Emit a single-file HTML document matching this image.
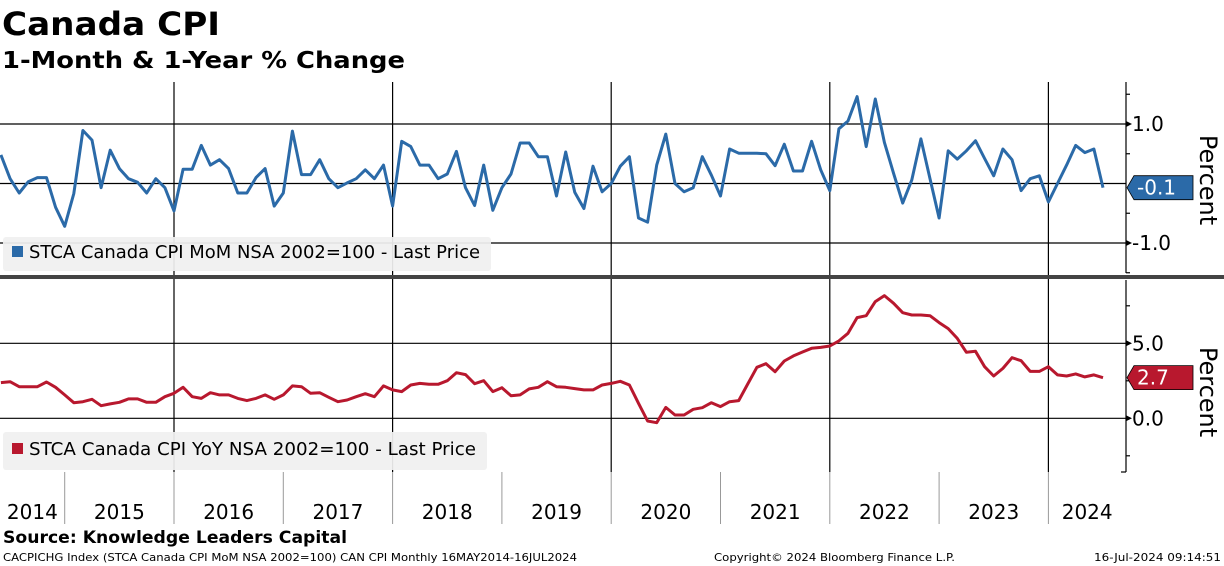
<!DOCTYPE html>
<html><head><meta charset="utf-8"><style>
html,body{margin:0;padding:0;background:#fff;}
svg{display:block;font-family:"DejaVu Sans","Liberation Sans",sans-serif;}
</style></head><body>
<svg id="chart" width="1224" height="566" viewBox="0 0 1224 566" xmlns="http://www.w3.org/2000/svg">
<text x="2" y="35" font-size="32" font-weight="bold" textLength="218" lengthAdjust="spacingAndGlyphs">Canada CPI</text>
<text x="2" y="68" font-size="23" font-weight="bold" textLength="403" lengthAdjust="spacingAndGlyphs">1-Month &amp; 1-Year % Change</text>
<g id="grid"></g>
<g id="series"></g>
<rect x="3" y="237" width="488" height="34" rx="3" fill="#f0f0f0" fill-opacity="0.93"/>
<rect x="12" y="246" width="11" height="11" fill="#2b6aa8"/>
<text x="29" y="258" font-size="18" textLength="451" lengthAdjust="spacingAndGlyphs">STCA Canada CPI MoM NSA 2002=100 - Last Price</text>
<rect x="3" y="432" width="484" height="38" rx="3" fill="#f0f0f0" fill-opacity="0.93"/>
<rect x="12" y="443" width="11" height="11" fill="#b8182e"/>
<text x="29" y="455" font-size="18" textLength="447" lengthAdjust="spacingAndGlyphs">STCA Canada CPI YoY NSA 2002=100 - Last Price</text>
<rect x="0" y="275" width="1224" height="4" fill="#444"/>
<g id="axes"></g>
<text x="3" y="543" font-size="17" font-weight="bold" textLength="344" lengthAdjust="spacingAndGlyphs">Source: Knowledge Leaders Capital</text>
<text x="3" y="561" font-size="11" textLength="574" lengthAdjust="spacingAndGlyphs">CACPICHG Index (STCA Canada CPI MoM NSA 2002=100) CAN CPI  Monthly 16MAY2014-16JUL2024</text>
<text x="714" y="561" font-size="11" textLength="241" lengthAdjust="spacingAndGlyphs">Copyright© 2024 Bloomberg Finance L.P.</text>
<text x="1094" y="561" font-size="11" textLength="127" lengthAdjust="spacingAndGlyphs">16-Jul-2024 09:14:51</text>
</svg>
<script>
const momValues = [0.48,0.08,-0.16,0.03,0.10,0.10,-0.40,-0.72,-0.17,0.89,0.73,-0.07,0.56,0.25,0.08,0.02,-0.16,0.08,-0.07,-0.46,0.24,0.24,0.64,0.31,0.40,0.25,-0.16,-0.16,0.10,0.25,-0.38,-0.16,0.88,0.15,0.15,0.40,0.08,-0.07,0.01,0.08,0.23,0.08,0.31,-0.38,0.71,0.62,0.31,0.31,0.08,0.16,0.54,-0.07,-0.37,0.31,-0.45,-0.07,0.16,0.68,0.68,0.45,0.45,-0.21,
0.53,-0.15,-0.42,0.29,-0.14,0.0,0.29,0.45,-0.58,-0.65,0.31,0.83,0.0,-0.14,-0.07,0.45,0.14,-0.21,0.58,0.51,0.51,0.51,0.50,0.30,0.66,0.21,0.21,0.71,0.23,-0.12,0.92,1.05,1.46,0.62,1.42,0.69,0.17,-0.33,0.06,0.75,0.08,-0.58,0.55,0.41,0.55,0.72,0.42,0.13,0.58,0.40,-0.12,0.08,0.13,-0.31,0.0,0.31,0.64,0.52,0.58,-0.07];
const yoyValues = [2.38,2.44,2.11,2.11,2.11,2.42,2.07,1.56,1.04,1.11,1.27,0.84,0.96,1.07,1.29,1.29,1.07,1.07,1.44,1.67,2.07,1.44,1.33,1.71,1.56,1.56,1.33,1.18,1.33,1.56,1.27,1.56,2.16,2.11,1.67,1.71,1.40,1.11,1.22,1.44,1.64,1.44,2.16,1.89,1.78,2.22,2.33,2.27,2.27,2.51,3.04,2.91,2.31,2.51,1.78,2.04,1.51,1.56,1.96,2.07,2.44,2.11,
2.07,1.98,1.89,1.89,2.22,2.33,2.47,2.22,1.00,-0.18,-0.29,0.73,0.22,0.22,0.60,0.71,1.04,0.78,1.11,1.18,2.29,3.40,3.64,3.11,3.82,4.16,4.42,4.67,4.73,4.82,5.16,5.67,6.71,6.84,7.78,8.18,7.67,7.04,6.89,6.89,6.84,6.38,5.98,5.33,4.40,4.47,3.44,2.82,3.33,4.04,3.84,3.13,3.13,3.44,2.89,2.82,2.96,2.76,2.89,2.71];
const yearLabels = ["2014","2015","2016","2017","2018","2019","2020","2021","2022","2023","2024"];
const momTicks = [1.0,-1.0];
const momTickLabels = ["1.0","-1.0"];
const momMinorTicks = [1.5,0.5,-0.5,-1.5];
const yoyTicks = [5.0,0.0];
const yoyTickLabels = ["5.0","0.0"];
const yoyMinorTicks = [7.5,2.5,-2.5];
const momLast = "-0.1";
const yoyLast = "2.7";

const NS="http://www.w3.org/2000/svg";
const firstYear=2014, firstIndexJan2016=19, jan2016X=174, yearW=109.3;
const monthW=yearW/12;
function xIdx(i){return jan2016X+(i-firstIndexJan2016)*monthW;}
function xYear(y){return jan2016X+(y-2016)*yearW;}
function yMom(v){return 183.5-v*59.5;}
function yYoy(v){return 418.3-v*15;}
const AX=1126;
function mk(tag,attrs,parent){const e=document.createElementNS(NS,tag);for(const k in attrs)e.setAttribute(k,attrs[k]);parent.appendChild(e);return e;}
const grid=document.getElementById('grid'),series=document.getElementById('series'),axes=document.getElementById('axes');

// horizontal grid
momTicks.concat([0]).forEach(v=>{const l=mk('line',{x1:0,x2:AX,y1:yMom(v),y2:yMom(v),stroke:'#000','stroke-width':1.2},grid);

});
yoyTicks.forEach(v=>{const l=mk('line',{x1:0,x2:AX,y1:yYoy(v),y2:yYoy(v),stroke:'#000','stroke-width':1.2},grid);

});
// vertical grid (every 2 years) and year separators
yearLabels.forEach((lab,k)=>{const yr=firstYear+k;const x=xYear(yr);
 if(k>0){
  const t=mk('line',{x1:x,x2:x,y1:472,y2:524,stroke:'#999','stroke-width':1},grid);
  
  
  if(yr%2===0){
   const g=mk('line',{x1:x,x2:x,y1:82,y2:472,stroke:'#000','stroke-width':1.2},grid);
   
   
  }
 }
 const x0=Math.max(0,x), x1=Math.min(AX,xYear(yr+1));
 const tx=mk('text',{x:(x0+x1)/2,y:519,'font-size':20,'text-anchor':'middle'},axes);
 tx.textContent=lab;
 
 
});
// series
function path(vals,yf){return vals.map((v,i)=>(i?'L':'M')+xIdx(i).toFixed(1)+' '+yf(v).toFixed(1)).join(' ');}
const pm=mk('path',{d:path(momValues,yMom),fill:'none',stroke:'#2b6aa8','stroke-width':3,'stroke-linejoin':'round'},series);


const py=mk('path',{d:path(yoyValues,yYoy),fill:'none',stroke:'#b8182e','stroke-width':3,'stroke-linejoin':'round'},series);


// axes
const a1=mk('line',{x1:AX,x2:AX,y1:82,y2:273,stroke:'#000','stroke-width':1.2},axes);


const a2=mk('line',{x1:AX,x2:AX,y1:280,y2:472,stroke:'#000','stroke-width':1.2},axes);


const a3=mk('line',{x1:AX-5,x2:AX,y1:472,y2:472,stroke:'#000','stroke-width':1.2},axes);


function ticks(vals,labels,minor,yf,pre){
 vals.forEach((v,i)=>{const y=yf(v);
  const ar=mk('path',{d:`M${AX} ${y-3} L${AX+6} ${y} L${AX} ${y+3} Z`,fill:'#000'},axes);
  
  
  const t=mk('text',{x:AX+6,y:y+7,'font-size':20},axes);t.textContent=labels[i];
  
  });
 minor.forEach(v=>{const y=yf(v);const l=mk('line',{x1:AX,x2:AX+4,y1:y,y2:y,stroke:'#000','stroke-width':1.2},axes);
  
  });
}
ticks(momTicks,momTickLabels,momMinorTicks,yMom,'mom');
ticks(yoyTicks,yoyTickLabels,yoyMinorTicks,yYoy,'yoy');
function tag(v,label,yf,color,pre){const y=yf(v);
 const p=mk('path',{d:`M${AX+1} ${y} L${AX+8} ${y-12} L1193 ${y-12} L1193 ${y+12} L${AX+8} ${y+12} Z`,fill:color,stroke:'#000','stroke-width':0.8},axes);
 
 
 const t=mk('text',{x:1137,y:y+7,'font-size':20,fill:'#fff'},axes);t.textContent=label;
 
 }
tag(momValues[momValues.length-1],momLast,yMom,'#2b6aa8','mom');
tag(yoyValues[yoyValues.length-1],yoyLast,yYoy,'#b8182e','yoy');
function ytitle(cy,pre){const t=mk('text',{x:0,y:0,'font-size':24,'text-anchor':'middle',transform:`translate(1200 ${cy}) rotate(90)`},axes);
 t.textContent='Percent';
 
 }
ytitle(180,'mom');ytitle(392,'yoy');
</script>
</body></html>
